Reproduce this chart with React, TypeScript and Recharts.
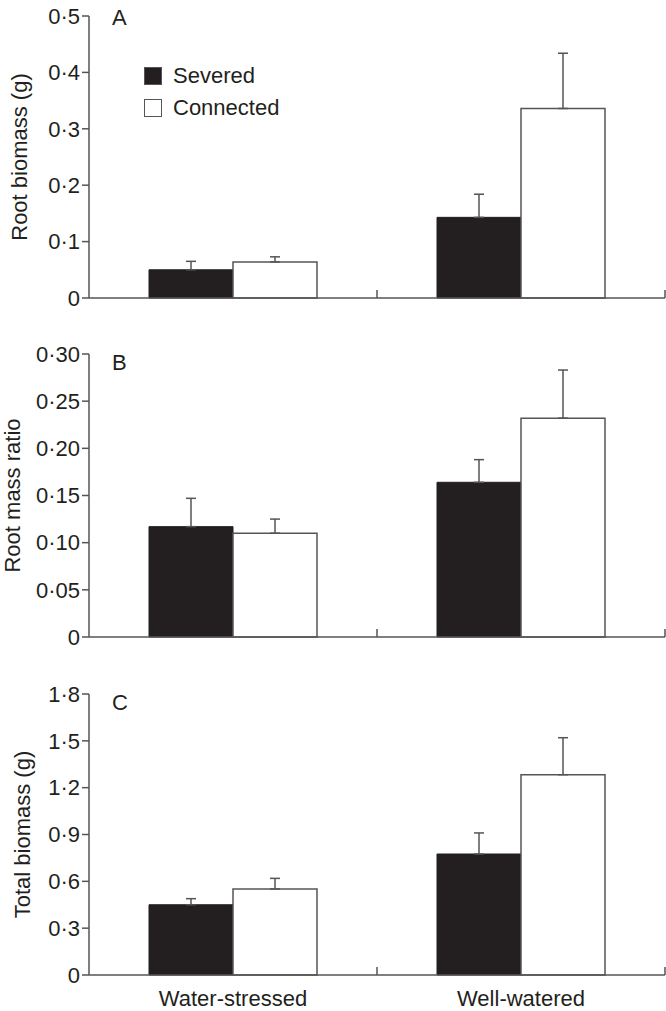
import React from 'react';
import { BarChart, Bar, XAxis, YAxis, ErrorBar, Legend } from 'recharts';

// treatment groups along the x axis
const groups = ['Water-stressed', 'Well-watered'];
const seriesNames = ['Severed', 'Connected'];

// panel A: root biomass (g), means and upper SE
const rootSevered = [0.05, 0.143];
const rootSeveredSE = [0.015, 0.041];
const rootConnected = [0.064, 0.336];
const rootConnectedSE = [0.009, 0.098];
const rootTicks = [0, 0.1, 0.2, 0.3, 0.4, 0.5];
const rootTickLabels = ['0', '0·1', '0·2', '0·3', '0·4', '0·5'];

// panel B: root mass ratio
const ratioSevered = [0.117, 0.164];
const ratioSeveredSE = [0.03, 0.024];
const ratioConnected = [0.11, 0.232];
const ratioConnectedSE = [0.015, 0.051];
const ratioTicks = [0, 0.05, 0.1, 0.15, 0.2, 0.25, 0.3];
const ratioTickLabels = ['0', '0·05', '0·10', '0·15', '0·20', '0·25', '0·30'];

// panel C: total biomass (g)
const totalSevered = [0.45, 0.775];
const totalSeveredSE = [0.039, 0.135];
const totalConnected = [0.551, 1.283];
const totalConnectedSE = [0.068, 0.237];
const totalTicks = [0, 0.3, 0.6, 0.9, 1.2, 1.5, 1.8];
const totalTickLabels = ['0', '0·3', '0·6', '0·9', '1·2', '1·5', '1·8'];

const INK = '#231f20';
const AXIS = '#555555';
const FONT = '"Liberation Sans", Arial, Helvetica, sans-serif';
const FS = 22;

const buildRows = (sev: number[], sevSE: number[], con: number[], conSE: number[]) =>
  groups.map((g, i) => ({
    group: g,
    sev: sev[i],
    sevErr: [0, sevSE[i]],
    con: con[i],
    conErr: [0, conSE[i]],
  }));

const GroupTick = (props: any) => {
  const { x, y, payload, showText } = props;
  const edge = x + (payload.offset ?? 144);
  return (
    <g>
      <line x1={edge} x2={edge} y1={y} y2={y - 8} stroke={AXIS} strokeWidth={1.5} />
      {showText && (
        <text x={x} y={y + 31} textAnchor="middle" fontSize={FS} fill={INK} fontFamily={FONT}>
          {payload.value}
        </text>
      )}
    </g>
  );
};

const LegendBox = (props: any) => {
  const items = [...(props.payload || [])].sort(
    (a: any, b: any) => seriesNames.indexOf(a.value) - seriesNames.indexOf(b.value)
  );
  return (
    <div style={{ fontFamily: FONT }}>
      {items.map((p: any) => (
        <div key={p.value} style={{ display: 'flex', alignItems: 'center', height: 32 }}>
          <span
            style={{
              display: 'block',
              width: 18,
              height: 18,
              boxSizing: 'border-box',
              background: p.color,
              border: `1.5px solid ${AXIS}`,
              marginRight: 11,
            }}
          />
          <span style={{ fontSize: FS, color: INK }}>{p.value}</span>
        </div>
      ))}
    </div>
  );
};

interface PanelProps {
  top: number;
  plotHeight: number;
  axisHeight: number;
  rows: any[];
  ticks: number[];
  tickLabels: string[];
  yLabel: string;
  labelX: number;
  letter: string;
  letterY: number;
  showLegend?: boolean;
  showGroups?: boolean;
}

const Panel = ({
  top,
  plotHeight,
  axisHeight,
  rows,
  ticks,
  tickLabels,
  yLabel,
  labelX,
  letter,
  letterY,
  showLegend,
  showGroups,
}: PanelProps) => {
  const marginTop = 16;
  const renderLabel = (p: any) => {
    const vb = p.viewBox || { y: marginTop, height: plotHeight };
    const cy = vb.y + vb.height / 2;
    return (
      <g>
        <text
          transform={`translate(${labelX}, ${cy}) rotate(-90)`}
          textAnchor="middle"
          fontSize={FS}
          fill={INK}
          fontFamily={FONT}
        >
          {yLabel}
        </text>
        <text x={112} y={vb.y + letterY} fontSize={FS} fill={INK} fontFamily={FONT}>
          {letter}
        </text>
      </g>
    );
  };

  return (
    <div style={{ position: 'absolute', left: 0, top }}>
      <BarChart
        width={666}
        height={marginTop + plotHeight + axisHeight}
        data={rows}
        margin={{ top: marginTop, right: 1, bottom: 0, left: 0 }}
        barGap={0}
      >
        <XAxis
          dataKey="group"
          height={axisHeight}
          interval={0}
          tickLine={false}
          tickSize={0}
          tickMargin={0}
          axisLine={{ stroke: AXIS, strokeWidth: 1.5 }}
          tick={(t: any) => <GroupTick {...t} showText={showGroups} />}
        />
        <YAxis
          width={89}
          domain={[ticks[0], ticks[ticks.length - 1]]}
          ticks={ticks}
          interval={0}
          tickSize={7}
          tickMargin={2}
          tickFormatter={(v: number, i: number) => tickLabels[i] ?? String(v)}
          tick={{ fontSize: FS, fill: INK, fontFamily: FONT }}
          tickLine={{ stroke: AXIS, strokeWidth: 1.5 }}
          axisLine={{ stroke: AXIS, strokeWidth: 1.5 }}
          label={{ content: renderLabel }}
        />
        {showLegend && (
          <Legend
            layout="horizontal"
            verticalAlign="middle"
            align="center"
            content={<LegendBox />}
            wrapperStyle={{ left: 144, top: 60, width: 'auto' }}
          />
        )}
        <Bar dataKey="sev" name={seriesNames[0]} fill={INK} stroke={INK} strokeWidth={1} barSize={84} isAnimationActive={false}>
          <ErrorBar dataKey="sevErr" direction="y" width={5} stroke={AXIS} strokeWidth={1.5} isAnimationActive={false} />
        </Bar>
        <Bar dataKey="con" name={seriesNames[1]} fill="#ffffff" stroke={AXIS} strokeWidth={1.5} barSize={84} isAnimationActive={false}>
          <ErrorBar dataKey="conErr" direction="y" width={5} stroke={AXIS} strokeWidth={1.5} isAnimationActive={false} />
        </Bar>
      </BarChart>
    </div>
  );
};

export default function App() {
  return (
    <div
      style={{
        position: 'absolute',
        left: 0,
        top: 0,
        width: 666,
        height: 1011,
        background: '#ffffff',
        fontFamily: FONT,
      }}
    >
      <Panel
        top={0}
        plotHeight={282}
        axisHeight={30}
        rows={buildRows(rootSevered, rootSeveredSE, rootConnected, rootConnectedSE)}
        ticks={rootTicks}
        tickLabels={rootTickLabels}
        yLabel="Root biomass (g)"
        labelX={27}
        letter="A"
        letterY={9}
        showLegend
      />
      <Panel
        top={338}
        plotHeight={283}
        axisHeight={30}
        rows={buildRows(ratioSevered, ratioSeveredSE, ratioConnected, ratioConnectedSE)}
        ticks={ratioTicks}
        tickLabels={ratioTickLabels}
        yLabel="Root mass ratio"
        labelX={20}
        letter="B"
        letterY={16}
      />
      <Panel
        top={678}
        plotHeight={281}
        axisHeight={36}
        rows={buildRows(totalSevered, totalSeveredSE, totalConnected, totalConnectedSE)}
        ticks={totalTicks}
        tickLabels={totalTickLabels}
        yLabel="Total biomass (g)"
        labelX={30}
        letter="C"
        letterY={16}
        showGroups
      />
    </div>
  );
}
